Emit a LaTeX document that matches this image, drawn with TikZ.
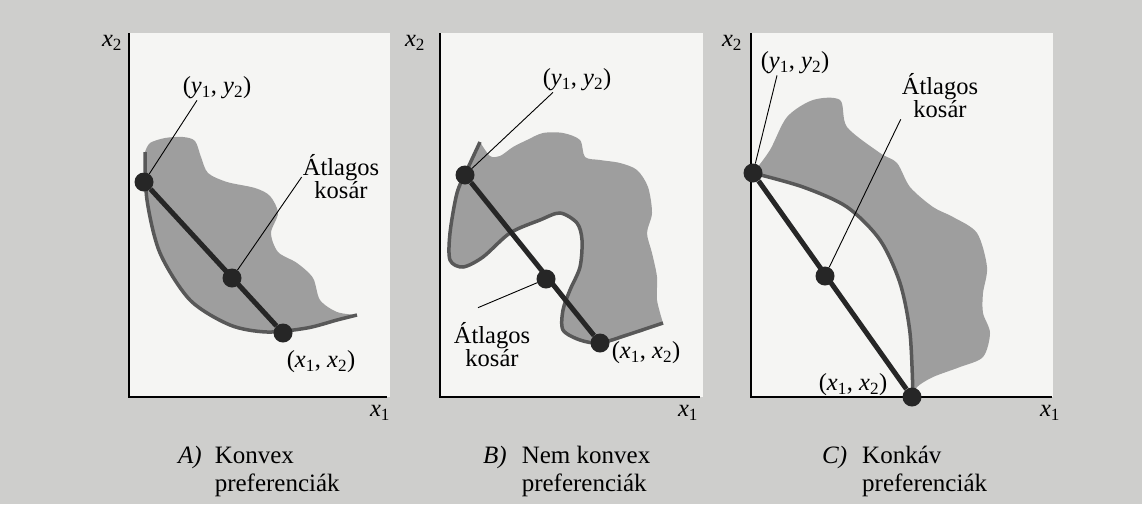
\documentclass[tikz,border=0pt]{standalone}
\usepackage{fontspec}
\setmainfont{Liberation Serif}
\usepackage{tikz}
\usetikzlibrary{positioning}
\definecolor{scan}{RGB}{206,206,204}
\definecolor{sheet}{RGB}{245,245,243}
\definecolor{blobgray}{RGB}{158,158,158}
\definecolor{curvegray}{RGB}{88,88,88}
\newcommand{\koord}[2]{(\textit{#1}\textsubscript{1}, \textit{#2}\textsubscript{2})}
\newcommand{\axlab}[1]{\textit{x}\textsubscript{#1}}

\begin{document}
\begin{tikzpicture}[x=1pt, y=-1pt,
    lbl/.style={font=\fontsize{24.5}{23}\selectfont, inner sep=1pt, align=center},
    capnode/.style={font=\fontsize{25}{28}\selectfont, anchor=base west, inner sep=0pt},
    dot/.style={circle, fill=black!85, inner sep=0pt, minimum size=19pt},
    axis/.style={line width=2.6pt},
    basket/.style={line width=5pt, black!85},
    lead/.style={line width=0.9pt},
    crv/.style={line width=3.5pt, curvegray},
    blob/.style={fill=blobgray}]
  \fill[scan] (0,0) rectangle (1142,504);
  \useasboundingbox (0,0) rectangle (1142,504);
  \fill[sheet] (129,33) rectangle (390,397);
  \fill[sheet] (440,33) rectangle (703,397);
  \fill[sheet] (751,33) rectangle (1053,397);

  % A) convex
  \fill[blob] plot[smooth] coordinates {(145,152) (150,143) (165,138) (183,137) (195,141)
      (201,157) (208,173) (227,182) (255,188) (270,196) (278,213) (271,233) (278,252)
      (297,263) (313,278) (320,300) (337,312) (357,315)}
    -- plot[smooth] coordinates {(357,315) (337,320) (307,328) (267,332) (230,325)
      (190,300) (160,253) (147,200) (145,152)} -- cycle;
  \draw[crv] plot[smooth] coordinates {(145,152) (147,200) (160,253) (190,300) (230,325)
      (267,332) (307,328) (337,320) (357,315)};
  \draw[axis] (129,33) -- (129,397) -- (387,397);
  \node[lbl] (x2A) at (112,43) {\axlab{2}};
  \node[lbl] (x1A) at (380,413) {\axlab{1}};
  \node[dot] (uA) at (144,182) {};
  \node[dot] (mA) at (232,278) {};
  \node[dot] (lA) at (283,333) {};
  \node[lbl] (yA) at (217,88) {\koord{y}{y}};
  \node[lbl] (aA) at (341,177) {Átlagos\\kosár};
  \node[lbl] (xA) at (321,362) {\koord{x}{x}};
  \draw[basket] (uA) -- (lA);
  \draw[lead] ([xshift=-20pt]yA.south) -- (uA);
  \draw[lead] (aA.west) -- (mA);

  % B) non-convex
  \fill[blob] plot[smooth] coordinates {(480,142) (490,156) (500,156) (513,147) (527,140)
      (543,133) (563,133) (580,140) (585,157) (600,160) (620,163) (637,170) (648,187)
      (652,213) (647,233) (652,253) (657,277) (657,300) (663,323)}
    -- plot[smooth] coordinates {(663,323) (627,335) (600,343) (580,340) (563,330)
      (563,310) (570,290) (580,267) (582,240) (577,223) (560,213) (540,220) (510,233)
      (483,257) (463,267) (450,260) (450,233) (457,193) (467,170) (480,142)} -- cycle;
  \draw[crv] plot[smooth] coordinates {(480,142) (467,170) (457,193) (450,233) (450,260)
      (463,267) (483,257) (510,233) (540,220) (560,213) (577,223) (582,240) (580,267)
      (570,290) (563,310) (563,330) (580,340) (600,343) (627,335) (663,323)};
  \draw[axis] (440,33) -- (440,397) -- (700,397);
  \node[lbl] (x2B) at (415,43) {\axlab{2}};
  \node[lbl] (x1B) at (688,413) {\axlab{1}};
  \node[dot] (uB) at (465,175) {};
  \node[dot] (mB) at (546,279) {};
  \node[dot] (lB) at (600,343) {};
  \node[lbl] (yB) at (577,80) {\koord{y}{y}};
  \node[lbl] (aB) at (492,345) {Átlagos\\kosár};
  \node[lbl] (xB) at (646,353) {\koord{x}{x}};
  \draw[basket] (uB) -- (lB);
  \draw[lead] ([xshift=-24pt]yB.south) -- (uB);
  \draw[lead] ([xshift=-14pt,yshift=14pt]aB.north) -- (mB);

  % C) concave
  \fill[blob] plot[smooth] coordinates {(753,173) (770,150) (787,117) (813,100) (840,100)
      (847,127) (880,153) (897,163) (910,187) (933,207) (953,217) (977,233) (987,267)
      (983,293) (983,313) (990,333) (983,357) (960,367) (933,377) (917,387) (913,397)}
    -- plot[smooth] coordinates {(913,397) (910,333) (900,283) (880,240) (847,207)
      (803,187) (753,173)} -- cycle;
  \draw[crv] plot[smooth] coordinates {(753,173) (803,187) (847,207) (880,240) (900,283)
      (910,333) (913,397)};
  \draw[axis] (751,33) -- (751,397) -- (1052,397);
  \node[lbl] (x2C) at (732,43) {\axlab{2}};
  \node[lbl] (x1C) at (1050,413) {\axlab{1}};
  \node[dot] (uC) at (753,173) {};
  \node[dot] (mC) at (825,276) {};
  \node[dot] (lC) at (912,397) {};
  \node[lbl] (yC) at (795,63) {\koord{y}{y}};
  \node[lbl] (aC) at (940,96) {Átlagos\\kosár};
  \node[lbl] (xC) at (853,385) {\koord{x}{x}};
  \draw[basket] (uC) -- (lC);
  \draw[lead] ([xshift=-18pt]yC.south) -- (uC);
  \draw[lead] (aC.south west) -- (mC);

  \node[capnode] (capA) at (178,463) {\textit{A)}\hspace{13pt}\begin{tabular}[t]{@{}l@{}}Konvex\\preferenciák\end{tabular}};
  \node[capnode] (capB) at (483,463) {\textit{B)}\hspace{15pt}\begin{tabular}[t]{@{}l@{}}Nem konvex\\preferenciák\end{tabular}};
  \node[capnode] (capC) at (822,463) {\textit{C)}\hspace{15pt}\begin{tabular}[t]{@{}l@{}}Konkáv\\preferenciák\end{tabular}};
\end{tikzpicture}
\end{document}
